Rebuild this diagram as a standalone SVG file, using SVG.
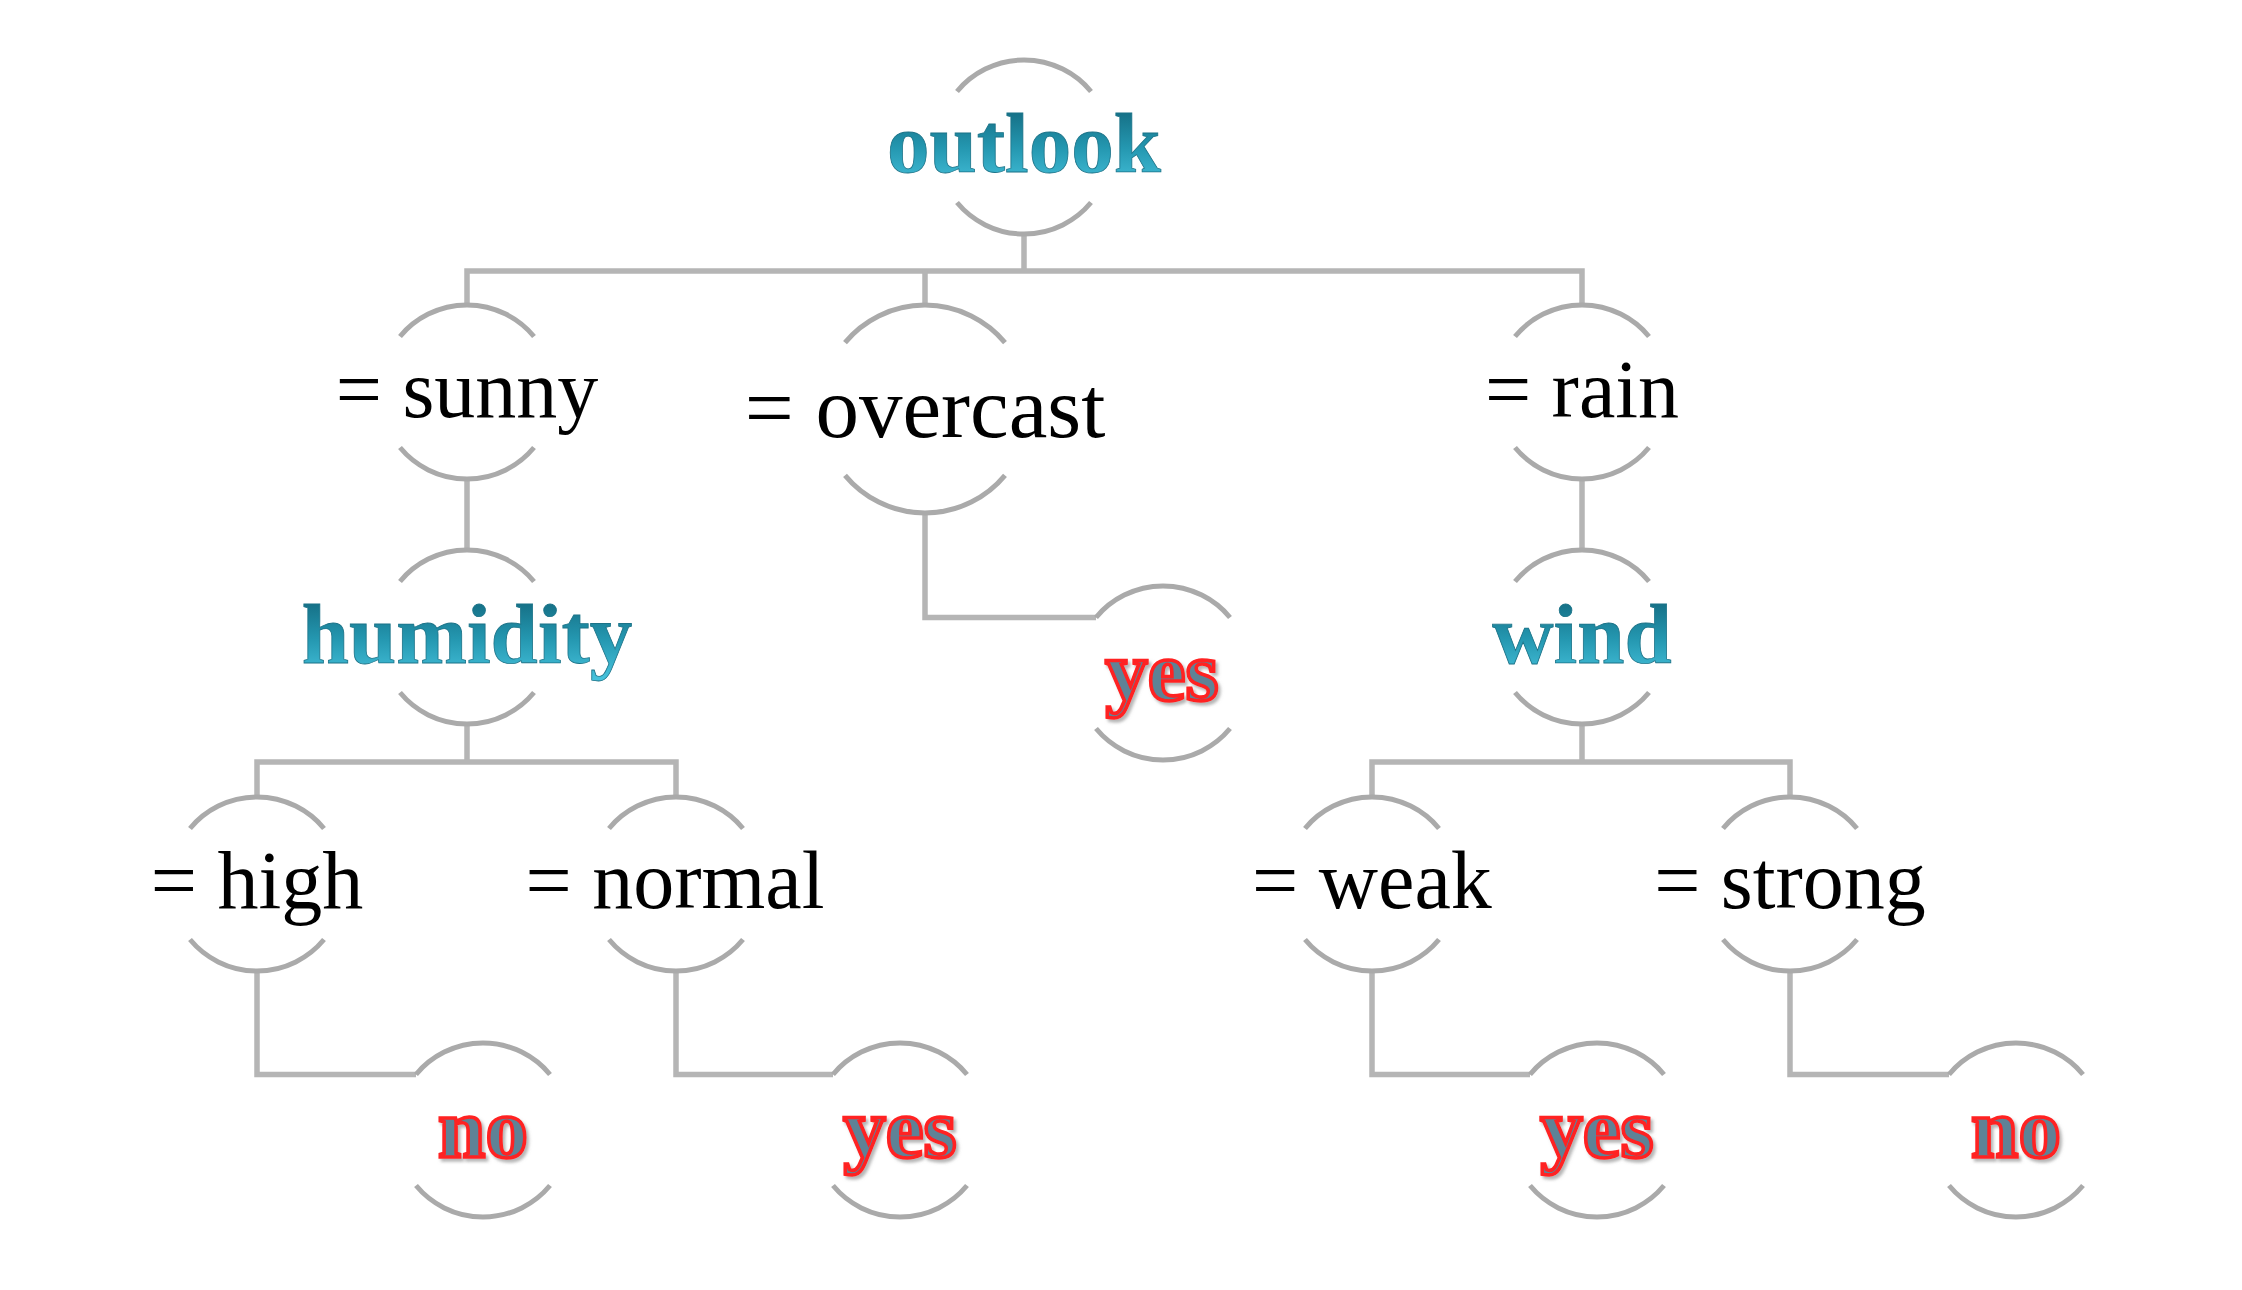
<svg xmlns="http://www.w3.org/2000/svg" width="2242" height="1290" viewBox="0 0 2242 1290">
<defs>
<linearGradient id="teal" x1="0" y1="0" x2="0" y2="1">
<stop offset="0" stop-color="#0f5f74"/>
<stop offset="0.55" stop-color="#2497b0"/>
<stop offset="1" stop-color="#48c4de"/>
</linearGradient>
<filter id="shadow" x="-20%" y="-20%" width="140%" height="150%">
<feDropShadow dx="2.5" dy="3" stdDeviation="1.8" flood-color="#7a7a7a" flood-opacity="0.55"/>
</filter>
</defs>
<style>
.arc{fill:none;stroke:#aaaaaa;stroke-width:5}
.conn{fill:none;stroke:#b5b5b5;stroke-width:5.5;stroke-linejoin:miter}
.lbl{font-family:"Liberation Serif","Times New Roman",serif;font-size:82px;fill:#000;text-anchor:middle}
.attr{font-family:"Liberation Serif","Times New Roman",serif;font-weight:bold;font-size:85px;fill:url(#teal);stroke:#1c7388;stroke-width:0.8;text-anchor:middle}
.leaf{font-family:"Liberation Serif","Times New Roman",serif;font-weight:bold;font-size:85px;fill:#5f8296;stroke:#ff2020;stroke-width:3.6;text-anchor:middle;filter:url(#shadow)}
</style>
<rect width="2242" height="1290" fill="#ffffff"/>
<g id="connectors">
<path class="conn" d="M1024,234 V271"/>
<path class="conn" d="M467,305 V271 H1582 V305"/>
<path class="conn" d="M925,271 V305"/>
<path class="conn" d="M467,479 V550"/>
<path class="conn" d="M467,724 V762"/>
<path class="conn" d="M257,797 V762 H676 V797"/>
<path class="conn" d="M257,971 V1074.5 H416"/>
<path class="conn" d="M676,971 V1074.5 H833"/>
<path class="conn" d="M925,513 V617.5 H1096"/>
<path class="conn" d="M1582,479 V550"/>
<path class="conn" d="M1582,724 V762"/>
<path class="conn" d="M1372,797 V762 H1790 V797"/>
<path class="conn" d="M1372,971 V1074.5 H1530"/>
<path class="conn" d="M1790,971 V1074.5 H1949"/>
</g>
<g id="outlook">
<path class="arc" d="M957,91.5 A87,87 0 0 1 1091,91.5"/>
<path class="arc" d="M957,202.5 A87,87 0 0 0 1091,202.5"/>
<text class="attr" x="1024" y="172">outlook</text>
</g>
<g id="sunny">
<path class="arc" d="M400,336.5 A87,87 0 0 1 534,336.5"/>
<path class="arc" d="M400,447.5 A87,87 0 0 0 534,447.5"/>
<text class="lbl" x="467" y="417">= sunny</text>
</g>
<g id="overcast">
<path class="arc" d="M845,342.6 A104,104 0 0 1 1005,342.6"/>
<path class="arc" d="M845,475.4 A104,104 0 0 0 1005,475.4"/>
<text class="lbl" x="925" y="437" style="font-size:87px">= overcast</text>
</g>
<g id="rain">
<path class="arc" d="M1515,336.5 A87,87 0 0 1 1649,336.5"/>
<path class="arc" d="M1515,447.5 A87,87 0 0 0 1649,447.5"/>
<text class="lbl" x="1582" y="417">= rain</text>
</g>
<g id="humidity">
<path class="arc" d="M400,581.5 A87,87 0 0 1 534,581.5"/>
<path class="arc" d="M400,692.5 A87,87 0 0 0 534,692.5"/>
<text class="attr" x="467" y="663">humidity</text>
</g>
<g id="yes-overcast">
<path class="arc" d="M1096,617.5 A87,87 0 0 1 1230,617.5"/>
<path class="arc" d="M1096,728.5 A87,87 0 0 0 1230,728.5"/>
<text class="leaf" x="1162" y="700">yes</text>
</g>
<g id="wind">
<path class="arc" d="M1515,581.5 A87,87 0 0 1 1649,581.5"/>
<path class="arc" d="M1515,692.5 A87,87 0 0 0 1649,692.5"/>
<text class="attr" x="1582" y="663">wind</text>
</g>
<g id="high">
<path class="arc" d="M190,828.5 A87,87 0 0 1 324,828.5"/>
<path class="arc" d="M190,939.5 A87,87 0 0 0 324,939.5"/>
<text class="lbl" x="257" y="908">= high</text>
</g>
<g id="normal">
<path class="arc" d="M609,828.5 A87,87 0 0 1 743,828.5"/>
<path class="arc" d="M609,939.5 A87,87 0 0 0 743,939.5"/>
<text class="lbl" x="675" y="908">= normal</text>
</g>
<g id="weak">
<path class="arc" d="M1305,828.5 A87,87 0 0 1 1439,828.5"/>
<path class="arc" d="M1305,939.5 A87,87 0 0 0 1439,939.5"/>
<text class="lbl" x="1372" y="908">= weak</text>
</g>
<g id="strong">
<path class="arc" d="M1723,828.5 A87,87 0 0 1 1857,828.5"/>
<path class="arc" d="M1723,939.5 A87,87 0 0 0 1857,939.5"/>
<text class="lbl" x="1790" y="908">= strong</text>
</g>
<g id="no-high">
<path class="arc" d="M416,1074.5 A87,87 0 0 1 550,1074.5"/>
<path class="arc" d="M416,1185.5 A87,87 0 0 0 550,1185.5"/>
<text class="leaf" x="483" y="1157">no</text>
</g>
<g id="yes-normal">
<path class="arc" d="M833,1074.5 A87,87 0 0 1 967,1074.5"/>
<path class="arc" d="M833,1185.5 A87,87 0 0 0 967,1185.5"/>
<text class="leaf" x="900" y="1157">yes</text>
</g>
<g id="yes-weak">
<path class="arc" d="M1530,1074.5 A87,87 0 0 1 1664,1074.5"/>
<path class="arc" d="M1530,1185.5 A87,87 0 0 0 1664,1185.5"/>
<text class="leaf" x="1597" y="1157">yes</text>
</g>
<g id="no-strong">
<path class="arc" d="M1949,1074.5 A87,87 0 0 1 2083,1074.5"/>
<path class="arc" d="M1949,1185.5 A87,87 0 0 0 2083,1185.5"/>
<text class="leaf" x="2016" y="1157">no</text>
</g>
</svg>
